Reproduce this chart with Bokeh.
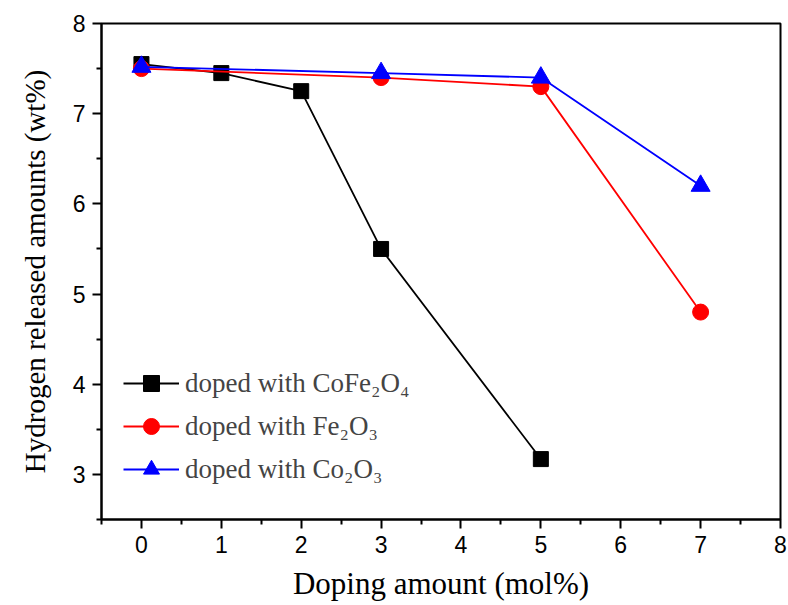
from bokeh.plotting import figure
from bokeh.models import Range1d, FixedTicker, Legend, LegendItem
from bokeh.embed import file_html
from bokeh.resources import INLINE

# Data
x_cofe = [0, 1, 2, 3, 5]
y_cofe = [7.55, 7.45, 7.25, 5.5, 3.17]
x_fe = [0, 3, 5, 7]
y_fe = [7.50, 7.40, 7.30, 4.80]
x_co = [0, 3, 5, 7]
y_co = [7.52, 7.45, 7.40, 6.20]
labels = ["doped with CoFe\u2082O\u2084", "doped with Fe\u2082O\u2083", "doped with Co\u2082O\u2083"]
x_ticks = [0, 1, 2, 3, 4, 5, 6, 7, 8]
y_ticks = [3, 4, 5, 6, 7, 8]

p = figure(width=788, height=605, output_backend="svg", toolbar_location=None,
           x_range=Range1d(-0.5, 8), y_range=Range1d(2.5, 8),
           min_border_left=101, min_border_top=23, min_border_right=8, min_border_bottom=86)
p.grid.visible = False
p.outline_line_color = "black"
p.outline_line_width = 2
p.background_fill_color = "white"
p.border_fill_color = "white"

r1l = p.line(x_cofe, y_cofe, line_color="black", line_width=1.8)
r1m = p.scatter(x_cofe, y_cofe, marker="square", size=15, fill_color="black", line_color="black")
r2l = p.line(x_fe, y_fe, line_color="red", line_width=1.8)
r2m = p.scatter(x_fe, y_fe, marker="circle", size=16, fill_color="red", line_color="red")
r3l = p.line(x_co, y_co, line_color="blue", line_width=1.8)
r3m = p.scatter(x_co, y_co, marker="triangle", size=19, fill_color="blue", line_color="blue")

for ax in (p.xaxis[0], p.yaxis[0]):
    ax.axis_line_width = 2
    ax.major_tick_line_width = 2
    ax.minor_tick_line_width = 2
    ax.major_tick_out = 9
    ax.major_tick_in = 0
    ax.minor_tick_out = 5
    ax.minor_tick_in = 0
    ax.major_label_text_font = "Liberation Sans"
    ax.major_label_text_font_size = "23px"
    ax.major_label_text_color = "black"
    ax.axis_label_text_font = "Liberation Serif"
    ax.axis_label_text_font_style = "normal"
    ax.axis_label_text_color = "black"

p.xaxis.axis_label_text_font_size = "31px"
p.yaxis.axis_label_text_font_size = "29px"
p.xaxis.ticker = FixedTicker(ticks=x_ticks, minor_ticks=[v + 0.5 for v in [-1] + x_ticks])
p.yaxis.ticker = FixedTicker(ticks=y_ticks, minor_ticks=[v + 0.5 for v in [2] + y_ticks])
p.xaxis.axis_label = "Doping amount (mol%)"
p.yaxis.axis_label = "Hydrogen released amounts (wt%)"
p.xaxis.major_label_standoff = 7
p.yaxis.major_label_standoff = 7
p.xaxis.axis_label_standoff = 10
p.yaxis.axis_label_standoff = 19

legend = Legend(items=[
    LegendItem(label=labels[0], renderers=[r1l, r1m]),
    LegendItem(label=labels[1], renderers=[r2l, r2m]),
    LegendItem(label=labels[2], renderers=[r3l, r3m]),
], location=(22, 30))
legend.label_text_font = "Liberation Serif"
legend.label_text_font_size = "27px"
legend.glyph_width = 56
legend.glyph_height = 40
legend.spacing = 3
legend.label_standoff = 6
legend.border_line_color = None
legend.background_fill_alpha = 0
p.add_layout(legend)

open("out.html", "w").write(file_html(p, INLINE))
